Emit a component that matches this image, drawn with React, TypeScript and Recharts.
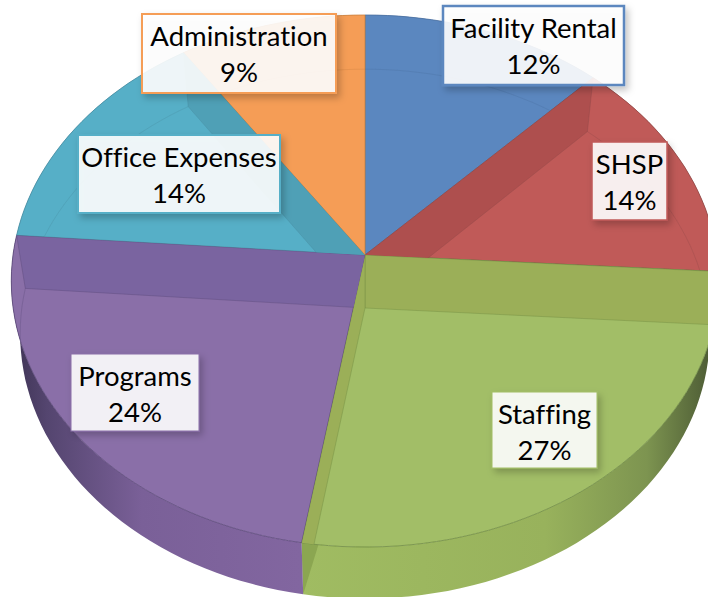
import React from 'react';
import { PieChart, Pie } from 'recharts';

const categories = ['Facility Rental', 'SHSP', 'Staffing', 'Programs', 'Office Expenses', 'Administration'];
const shares = [12.2, 13.8, 26.6, 23.6, 14.4, 9.4];

const faceColors = ['#5B87BF', '#C05A58', '#A2BE67', '#8A6FA8', '#56AFC7', '#F59D56'];
const wallColors = ['#4E78AC', '#AE4F4E', '#9BAF58', '#7A64A0', '#4FA0B6', '#E38C48'];
const edgeColors = ['#4A6F9E', '#8E4A48', '#6F8A42', '#5A4878', '#4A8CA0', '#C9803F'];

const labelBoxes: Record<string, { x: number; y: number; w: number; h: number; border: number }> = {
  'Facility Rental': { x: 443, y: 6, w: 181, h: 79, border: 2.5 },
  SHSP: { x: 592, y: 142, w: 75, h: 78, border: 1.5 },
  Staffing: { x: 492, y: 392, w: 105, h: 76, border: 1 },
  Programs: { x: 71, y: 354, w: 128, h: 77, border: 1 },
  'Office Expenses': { x: 78, y: 135, w: 202, h: 78, border: 2 },
  Administration: { x: 142, y: 14, w: 194, h: 79, border: 2 },
};

const tableData = categories.map((name, i) => ({ name, value: shares[i], fill: faceColors[i] }));

// tilt of the pie: circle angles are pushed through a perspective map
const TILT = 0.0977;
const FACE_RY = 263.5;
const FLOOR = { dx: 0, dy: 53, scaleX: 0.975, scaleY: 0.995 };

type Pt = [number, number];

const project = (deg: number, cx: number, cy: number, r: number, floor: boolean): Pt => {
  const a = (deg * Math.PI) / 180;
  const u = Math.sin(a);
  const v = Math.cos(a);
  const w = 1 + TILT * v;
  if (floor) {
    return [cx + FLOOR.dx + (r * FLOOR.scaleX * u) / w, cy + FLOOR.dy - (FACE_RY * FLOOR.scaleY * v) / w];
  }
  return [cx + (r * u) / w, cy - (FACE_RY * v) / w];
};

const arcPoints = (from: number, to: number, cx: number, cy: number, r: number, floor: boolean) => {
  const n = Math.max(2, Math.ceil(Math.abs(to - from) / 2));
  const pts: Pt[] = [];
  for (let i = 0; i <= n; i++) pts.push(project(from + ((to - from) * i) / n, cx, cy, r, floor));
  return pts;
};

const toPath = (pts: Pt[], close = true) =>
  pts.map((p, i) => `${i ? 'L' : 'M'}${p[0].toFixed(1)},${p[1].toFixed(1)}`).join(' ') + (close ? ' Z' : '');

const sliceInfo = (props: any) => {
  const start = 90 - props.startAngle;
  const end = 90 - props.endAngle;
  const idx = categories.indexOf(props.name ?? props.payload?.name);
  return { start, end, idx, cx: props.cx, cy: props.cy, r: props.outerRadius };
};

const SideShape = (props: any) => {
  const { start, end, idx, cx, cy, r } = sliceInfo(props);
  const top = arcPoints(start, end, cx, cy, r, false);
  const bottom = arcPoints(end, start, cx, cy, r, true);
  const showCut = end > 180 && end < 270;
  return (
    <g>
      <path d={toPath([...top, ...bottom])} fill={`url(#side-${idx})`} stroke="none" />
      {showCut && (
        <path
          d={toPath([
            project(end, cx, cy, r, false),
            project(end, cx, cy, r, true),
            project(end - 2.5, cx, cy, r, false),
          ])}
          fill="#8BA651"
        />
      )}
    </g>
  );
};

const FaceShape = (props: any) => {
  const { start, end, idx, cx, cy, r } = sliceInfo(props);
  const pts: Pt[] = [[cx, cy], ...arcPoints(start, end, cx, cy, r, false)];
  return <path d={toPath(pts)} fill={faceColors[idx]} stroke={edgeColors[idx]} strokeWidth={0.8} />;
};

const wallPath = (deg: number, cx: number, cy: number, r: number) => {
  const floorApex: Pt = [cx + FLOOR.dx, cy + FLOOR.dy];
  return toPath([[cx, cy], project(deg, cx, cy, r, false), project(deg, cx, cy, r, true), floorApex]);
};

const WallShape = (props: any) => {
  const { start, end, idx, cx, cy, r } = sliceInfo(props);
  const face: Pt[] = [[cx, cy], ...arcPoints(start, end, cx, cy, r, false)];
  const floorLine = arcPoints(start, end, cx, cy, r, true);
  const walls: string[] = [];
  // only the cut faces that turn toward the viewer show through
  if (start > 0 && start < 180) walls.push(wallPath(start, cx, cy, r));
  if (end > 180 && end < 360) walls.push(wallPath(end, cx, cy, r));
  return (
    <g>
      <clipPath id={`clip-${idx}`}>
        <path d={toPath(face)} />
      </clipPath>
      <g clipPath={`url(#clip-${idx})`}>
        {walls.map((d, i) => (
          <path key={i} d={d} fill={wallColors[idx]} stroke={edgeColors[idx]} strokeWidth={0.4} />
        ))}
        <path d={toPath(floorLine, false)} fill="none" stroke={edgeColors[idx]} strokeWidth={0.7} opacity={0.45} />
      </g>
    </g>
  );
};

const renderLabel = (props: any) => {
  const name = props.name ?? props.payload?.name;
  const idx = categories.indexOf(name);
  const box = labelBoxes[name];
  if (!box) return null;
  const mid = box.x + box.w / 2;
  const pct = Math.round(props.percent * 100);
  const textStyle = { fontVariantLigatures: 'none' } as React.CSSProperties;
  return (
    <g key={name}>
      <rect
        x={box.x}
        y={box.y}
        width={box.w}
        height={box.h}
        fill="#ffffff"
        fillOpacity={0.89}
        stroke={faceColors[idx]}
        strokeWidth={box.border}
        filter="url(#boxShadow)"
      />
      <text x={mid} y={box.y + 32} textAnchor="middle" fontFamily="Lato" fontSize={27.5} fill="#000000" style={textStyle}>
        {name}
      </text>
      <text x={mid} y={box.y + 68} textAnchor="middle" fontFamily="Lato" fontSize={27.5} fill="#000000" style={textStyle}>
        {pct}%
      </text>
    </g>
  );
};

const pieProps = {
  data: tableData,
  dataKey: 'value',
  nameKey: 'name',
  cx: 365,
  cy: 255,
  innerRadius: 0,
  outerRadius: 352,
  startAngle: 90,
  endAngle: -270,
  isAnimationActive: false,
  stroke: 'none',
};

export default function App() {
  return (
    <div style={{ position: 'absolute', left: 0, top: 0, width: 708, height: 597, background: '#fff', overflow: 'hidden' }}>
      <PieChart width={708} height={597} margin={{ top: 0, right: 0, bottom: 0, left: 0 }}>
        <defs>
          <filter id="boxShadow" x="-15%" y="-15%" width="130%" height="140%">
            <feDropShadow dx="3" dy="4" stdDeviation="3.5" floodColor="#000" floodOpacity="0.25" />
          </filter>
          {faceColors.map((c, i) =>
            i === 2 || i === 3 ? null : (
              <linearGradient key={i} id={`side-${i}`} gradientUnits="userSpaceOnUse" x1="0" y1="0" x2="708" y2="0">
                <stop offset="0" stopColor={c} />
                <stop offset="1" stopColor={c} />
              </linearGradient>
            ),
          )}
          <linearGradient id="side-3" gradientUnits="userSpaceOnUse" x1="12" y1="0" x2="300" y2="0">
            <stop offset="0" stopColor="#3E3354" />
            <stop offset="0.12" stopColor="#54456F" />
            <stop offset="0.45" stopColor="#7A6098" />
            <stop offset="1" stopColor="#8266A0" />
          </linearGradient>
          <linearGradient id="side-2" gradientUnits="userSpaceOnUse" x1="300" y1="0" x2="708" y2="0">
            <stop offset="0" stopColor="#A0BC62" />
            <stop offset="0.6" stopColor="#98B25C" />
            <stop offset="0.85" stopColor="#7D9450" />
            <stop offset="1" stopColor="#4F5E36" />
          </linearGradient>
        </defs>
        <Pie {...pieProps} shape={SideShape} inactiveShape={SideShape} />
        <Pie {...pieProps} shape={FaceShape} inactiveShape={FaceShape} />
        <Pie {...pieProps} shape={WallShape} inactiveShape={WallShape} label={renderLabel} labelLine={false} />
      </PieChart>
    </div>
  );
}
